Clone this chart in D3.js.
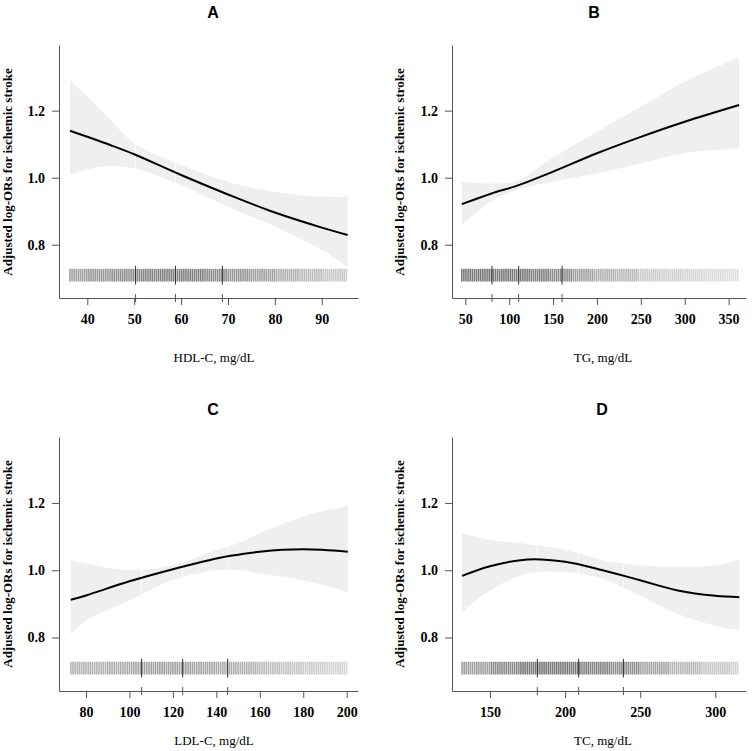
<!DOCTYPE html>
<html>
<head>
<meta charset="utf-8">
<script src="https://cdn.jsdelivr.net/npm/d3@7"></script>
<style>
  body { margin: 0; background: #fff; }
  svg { display: block; }
  .axis path, .axis line { stroke: #555; }
</style>
</head>
<body>
<script>
// panel letters and axis titles
var panelIds = ["A", "B", "C", "D"];
var xTitles = ["HDL-C, mg/dL", "TG, mg/dL", "LDL-C, mg/dL", "TC, mg/dL"];
var yTitle = "Adjusted log-ORs for ischemic stroke";
var yTicks = [0.8, 1.0, 1.2];

// HDL-C
var hdlX     = [36.3, 40, 45, 50, 60, 70, 80, 90, 95.5];
var hdlFit   = [1.140, 1.122, 1.097, 1.070, 1.008, 0.950, 0.896, 0.851, 0.829];
var hdlUpper = [1.291, 1.242, 1.172, 1.103, 1.038, 0.988, 0.958, 0.943, 0.943];
var hdlLower = [1.008, 1.025, 1.035, 1.028, 0.978, 0.913, 0.854, 0.784, 0.734];
var hdlTicks = [40, 50, 60, 70, 80, 90];
var hdlQuart = [50.3, 58.8, 68.8];
var hdlRugRange = [36.3, 95.5];
var hdlRugDensity = [0.5, 0.55, 0.6, 0.65, 0.68, 0.68, 0.62, 0.56, 0.5, 0.42, 0.36, 0.3, 0.25];

// TG
var tgX     = [46, 80, 110, 150, 200, 250, 300, 362];
var tgFit   = [0.921, 0.953, 0.977, 1.018, 1.073, 1.122, 1.167, 1.217];
var tgUpper = [0.988, 0.983, 0.992, 1.060, 1.137, 1.212, 1.287, 1.359];
var tgLower = [0.859, 0.930, 0.965, 0.988, 1.013, 1.043, 1.073, 1.088];
var tgTicks = [50, 100, 150, 200, 250, 300, 350];
var tgQuart = [80.4, 110.8, 160.2];
var tgRugRange = [46, 362];
var tgRugDensity = [0.72, 0.72, 0.72, 0.68, 0.62, 0.5, 0.42, 0.38, 0.28, 0.26, 0.22, 0.2, 0.18];

// LDL-C
var ldlX     = [73, 80, 100, 120, 140, 150, 160, 180, 200.5];
var ldlFit   = [0.912, 0.925, 0.967, 1.003, 1.035, 1.046, 1.055, 1.062, 1.055];
var ldlUpper = [1.030, 1.020, 1.000, 1.015, 1.060, 1.080, 1.110, 1.160, 1.192];
var ldlLower = [0.810, 0.850, 0.910, 0.970, 1.000, 1.000, 0.990, 0.970, 0.935];
var ldlTicks = [80, 100, 120, 140, 160, 180, 200];
var ldlQuart = [105.6, 124.5, 145.2];
var ldlRugRange = [73, 200.5];
var ldlRugDensity = [0.42, 0.42, 0.44, 0.48, 0.5, 0.5, 0.48, 0.45, 0.42, 0.36, 0.32, 0.28, 0.24, 0.2];

// TC
var tcX     = [131.4, 150, 175, 200, 225, 250, 275, 300, 316];
var tcFit   = [0.983, 1.012, 1.032, 1.025, 1.000, 0.970, 0.940, 0.924, 0.920];
var tcUpper = [1.110, 1.090, 1.078, 1.060, 1.030, 1.015, 1.010, 1.015, 1.032];
var tcLower = [0.875, 0.940, 0.990, 0.995, 0.975, 0.925, 0.870, 0.835, 0.822];
var tcTicks = [150, 200, 250, 300];
var tcQuart = [181.5, 209, 238.8];
var tcRugRange = [131.4, 316];
var tcRugDensity = [0.5, 0.62, 0.72, 0.72, 0.66, 0.6, 0.48, 0.38, 0.3, 0.25];

// layout of the four panels (pixels)
var layout = [
	{ left: 59,  right: 358, top: 45,  bottom: 298, xDom: [33.97, 97.72],  rugStep: 0.45, rugBin: 5,  rugBin0: 35,
	  title: [213, 18], ylab: [8, 172],   xlab: [214, 362] },
	{ left: 452, right: 746, top: 45,  bottom: 298, xDom: [34.85, 369.8],  rugStep: 2.4,  rugBin: 25, rugBin0: 46,
	  title: [594, 18], ylab: [400, 172], xlab: [603, 362] },
	{ left: 59,  right: 358, top: 437, bottom: 691, xDom: [67.57, 205.2],  rugStep: 1.0,  rugBin: 10, rugBin0: 70,
	  title: [213, 415], ylab: [8, 564],  xlab: [214, 745] },
	{ left: 452, right: 746, top: 437, bottom: 691, xDom: [124.7, 320.4],  rugStep: 1.4,  rugBin: 20, rugBin0: 130,
	  title: [602, 415], ylab: [400, 564], xlab: [603, 745] }
];

var panelData = [
	{ x: hdlX, fit: hdlFit, lo: hdlLower, hi: hdlUpper, ticks: hdlTicks, quart: hdlQuart, rug: hdlRugRange, dens: hdlRugDensity },
	{ x: tgX,  fit: tgFit,  lo: tgLower,  hi: tgUpper,  ticks: tgTicks,  quart: tgQuart,  rug: tgRugRange,  dens: tgRugDensity },
	{ x: ldlX, fit: ldlFit, lo: ldlLower, hi: ldlUpper, ticks: ldlTicks, quart: ldlQuart, rug: ldlRugRange, dens: ldlRugDensity },
	{ x: tcX,  fit: tcFit,  lo: tcLower,  hi: tcUpper,  ticks: tcTicks,  quart: tcQuart,  rug: tcRugRange,  dens: tcRugDensity }
];

var yDom = [0.641, 1.396];
var rugBand = [0.69, 0.728];
var serif = "'Liberation Serif', 'Times New Roman', serif";

var svg = d3.select("body").append("svg")
	.attr("width", 753)
	.attr("height", 751);

svg.append("rect").attr("width", 753).attr("height", 751).attr("fill", "#fff");

panelData.forEach(function(d, i) {
	drawPanel(d, layout[i], i);
});

function drawPanel(d, L, i) {

	var x = d3.scaleLinear().domain(L.xDom).range([L.left, L.right]);
	var y = d3.scaleLinear().domain(yDom).range([L.bottom, L.top]);
	var smooth = d3.curveCatmullRom.alpha(0.5);

	var g = svg.append("g").attr("class", "panel");

	var pts = d.x.map(function(v, k) {
		return { x: v, fit: d.fit[k], lo: d.lo[k], hi: d.hi[k] };
	});

	// confidence band
	var band = d3.area()
		.x(function(p) { return x(p.x); })
		.y0(function(p) { return y(p.lo); })
		.y1(function(p) { return y(p.hi); })
		.curve(smooth);

	g.append("path")
		.datum(pts)
		.attr("d", band)
		.attr("fill", "#efefef");

	// faint seams in the band at the quartiles
	g.append("clipPath")
		.attr("id", "band" + i)
		.append("path")
		.datum(pts)
		.attr("d", band);

	g.append("g")
		.attr("clip-path", "url(#band" + i + ")")
		.selectAll("line")
		.data(d.quart)
		.enter().append("line")
		.attr("x1", function(v) { return x(v); })
		.attr("x2", function(v) { return x(v); })
		.attr("y1", L.top)
		.attr("y2", L.bottom)
		.attr("stroke", "#fff")
		.attr("stroke-opacity", 0.8);

	// estimated curve
	var line = d3.line()
		.x(function(p) { return x(p.x); })
		.y(function(p) { return y(p.fit); })
		.curve(smooth);

	g.append("path")
		.datum(pts)
		.attr("d", line)
		.attr("fill", "none")
		.attr("stroke", "#000")
		.attr("stroke-width", 2);

	var rugVals = d3.range(d.rug[0], d.rug[1] + 0.001, L.rugStep);
	g.append("g")
		.selectAll("line")
		.data(rugVals)
		.enter().append("line")
		.attr("x1", function(v) { return x(v); })
		.attr("x2", function(v) { return x(v); })
		.attr("y1", y(rugBand[0]))
		.attr("y2", y(rugBand[1]))
		.attr("stroke", "#444")
		.attr("stroke-width", 1.6)
		.attr("stroke-opacity", function(v) {
			var b = Math.floor((v - L.rugBin0) / L.rugBin);
			b = Math.max(0, Math.min(d.dens.length - 1, b));
			return d.dens[b];
		});

	// quartile markers
	g.append("g")
		.selectAll("line")
		.data(d.quart)
		.enter().append("line")
		.attr("x1", function(v) { return x(v); })
		.attr("x2", function(v) { return x(v); })
		.attr("y1", y(rugBand[1]) - 3)
		.attr("y2", y(rugBand[0]) + 3)
		.attr("stroke", "#333")
		.attr("stroke-width", 1);

	// axes
	g.append("g")
		.attr("class", "axis")
		.attr("transform", "translate(0," + L.bottom + ")")
		.call(d3.axisBottom(x).tickValues(d.ticks).tickSize(7).tickSizeOuter(0).tickPadding(9));

	g.append("g")
		.attr("class", "axis")
		.attr("transform", "translate(" + L.left + ",0)")
		.call(d3.axisLeft(y).tickValues(yTicks).tickFormat(d3.format(".1f"))
			.tickSize(7).tickSizeOuter(0).tickPadding(7));

	g.selectAll(".axis").attr("font-family", null).attr("font-size", null);
	g.selectAll(".tick text")
		.style("font-family", serif)
		.style("font-weight", "bold")
		.style("font-size", "14px")
		.attr("fill", "#000");

	// quartile ticks on the x axis
	g.append("g")
		.selectAll("line")
		.data(d.quart)
		.enter().append("line")
		.attr("x1", function(v) { return x(v); })
		.attr("x2", function(v) { return x(v); })
		.attr("y1", L.bottom - 4)
		.attr("y2", L.bottom + 4)
		.attr("stroke", "#555");

	// panel letter
	g.append("text")
		.attr("x", L.title[0])
		.attr("y", L.title[1])
		.attr("text-anchor", "middle")
		.style("font-family", "'Liberation Sans', Arial, sans-serif")
		.style("font-weight", "bold")
		.style("font-size", "16px")
		.text(panelIds[i]);

	// y title
	g.append("text")
		.attr("transform", "translate(" + (L.ylab[0] + 4) + "," + L.ylab[1] + ") rotate(-90)")
		.attr("text-anchor", "middle")
		.style("font-family", serif)
		.style("font-weight", "bold")
		.style("font-size", "13px")
		.text(yTitle);

	// x title
	g.append("text")
		.attr("x", L.xlab[0])
		.attr("y", L.xlab[1])
		.attr("text-anchor", "middle")
		.style("font-family", serif)
		.style("font-size", "13px")
		.text(xTitles[i]);
}
</script>
</body>
</html>
